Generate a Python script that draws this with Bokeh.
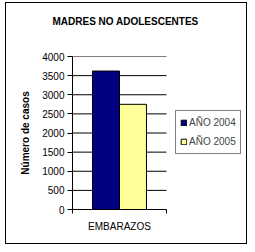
from bokeh.plotting import figure
from bokeh.models import ColumnDataSource, Legend, LegendItem, FixedTicker, Range1d, Title
from bokeh.embed import file_html
from bokeh.resources import INLINE

title = "MADRES NO ADOLESCENTES"
categories = ["EMBARAZOS"]
series_names = ["AÑO 2004", "AÑO 2005"]
values_2004 = [3620]
values_2005 = [2750]
y_ticks = [0, 500, 1000, 1500, 2000, 2500, 3000, 3500, 4000]
y_label = "Número de casos"

FONT = "Liberation Sans"
n = len(categories)
cat_x = [i + 0.5 for i in range(n)]
cat_edges = [i for i in range(n + 1)]
bar_w = 0.287
src = ColumnDataSource(dict(x1=[c - bar_w / 2 for c in cat_x], x2=[c + bar_w / 2 for c in cat_x],
                            a=values_2004, b=values_2005))

# frame spans from the value axis to the right border; category area is [0, n]
p = figure(width=242, height=242, x_range=Range1d(0, n * 175 / 94), y_range=Range1d(0, 4000),
           output_backend="svg", toolbar_location=None,
           min_border_left=66, min_border_right=1, min_border_top=53, min_border_bottom=36)
p.margin = (2, 0, 0, 5)
p.styles = {"border": "1px solid black"}
p.title.text = title
p.title.align = "left"
p.title.offset = -20
p.title.text_font = FONT
p.title.text_font_size = "10px"
p.title.text_font_style = "bold"
p.title.text_color = "black"
p.title.standoff = 10
# empty spacer between title and plot area
p.add_layout(Title(text=" ", text_font_size="1px", standoff=22), "above")
p.outline_line_color = None
p.background_fill_color = "white"
p.border_fill_color = "white"

p.xgrid.grid_line_color = None
p.ygrid.grid_line_color = None
p.segment(x0=[0] * len(y_ticks), x1=[n] * len(y_ticks), y0=y_ticks, y1=y_ticks,
          line_color="black", line_width=1)

r1 = p.vbar(x="x1", top="a", width=bar_w, source=src,
            fill_color="#000080", line_color="black", line_width=1)
r2 = p.vbar(x="x2", top="b", width=bar_w, source=src,
            fill_color="#FFFF99", line_color="black", line_width=1)

p.yaxis.ticker = FixedTicker(ticks=y_ticks)
p.yaxis.axis_label = y_label
p.yaxis.axis_label_text_font = FONT
p.yaxis.axis_label_text_font_style = "bold"
p.yaxis.axis_label_text_font_size = "10px"
p.yaxis.axis_label_text_color = "black"
p.yaxis.axis_label_standoff = 8
p.xaxis.ticker = FixedTicker(ticks=cat_x, minor_ticks=cat_edges)
p.xaxis.major_label_overrides = {c: lab for c, lab in zip(cat_x, categories)}
p.xaxis.bounds = (0, n)
for ax in (p.xaxis[0], p.yaxis[0]):
    ax.major_label_text_font = FONT
    ax.major_label_text_font_size = "10px"
    ax.major_label_text_color = "black"
    ax.axis_line_color = "black"
p.yaxis.minor_tick_line_color = None
p.yaxis.major_tick_in = 0
p.yaxis.major_tick_out = 5
p.yaxis.major_label_standoff = 3
p.xaxis.major_tick_line_color = None
p.xaxis.minor_tick_line_color = "black"
p.xaxis.minor_tick_in = 0
p.xaxis.minor_tick_out = 4
p.xaxis.major_label_standoff = 5

legend = Legend(items=[LegendItem(label=series_names[0], renderers=[r1]),
                       LegendItem(label=series_names[1], renderers=[r2])],
                location=(103, 55))
legend.border_line_color = "black"
legend.border_line_width = 1
legend.label_text_font = FONT
legend.label_text_font_size = "10px"
legend.glyph_width = 7
legend.glyph_height = 7
legend.label_standoff = 2
legend.padding = 4
legend.spacing = 4
legend.margin = 0
legend.label_height = 15
p.add_layout(legend, "center")

open("out.html", "w").write(file_html(p, INLINE))
